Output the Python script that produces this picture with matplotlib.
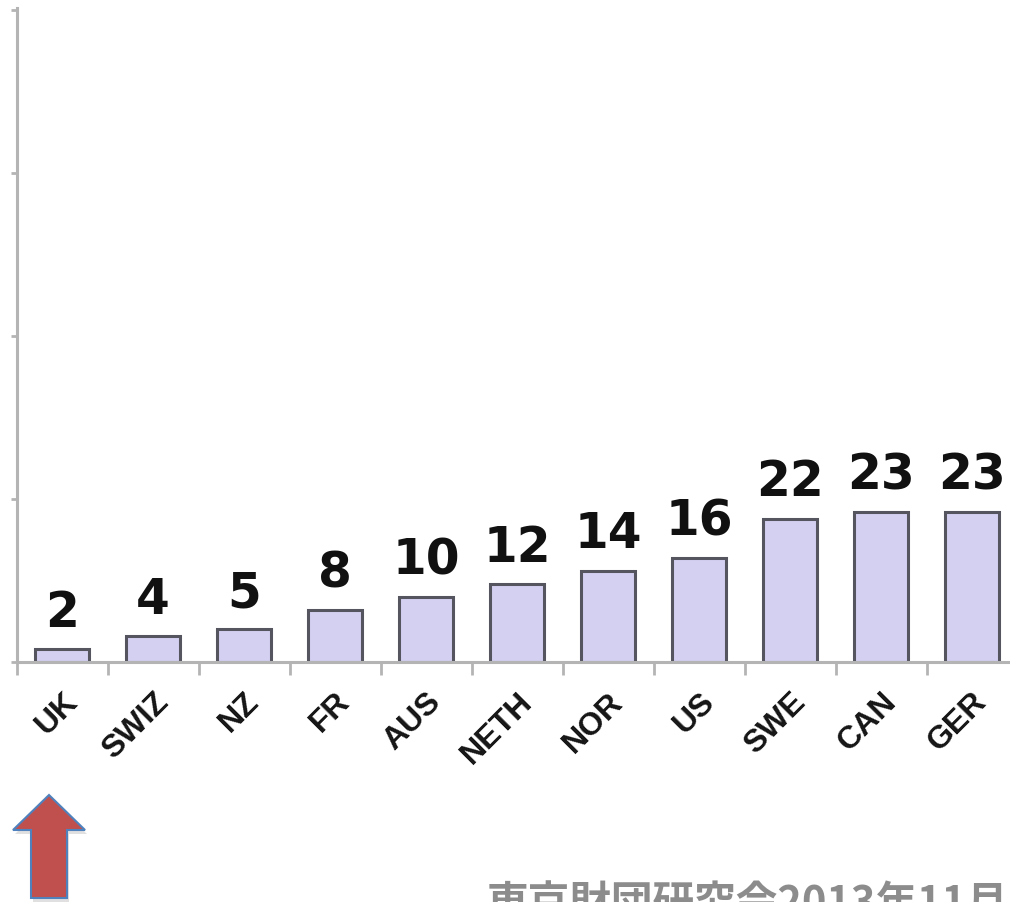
import matplotlib.pyplot as plt
from matplotlib.patches import Polygon
import numpy as np

# data
countries = ['UK', 'SWIZ', 'NZ', 'FR', 'AUS', 'NETH', 'NOR', 'US', 'SWE', 'CAN', 'GER']
values = [2, 4, 5, 8, 10, 12, 14, 16, 22, 23, 23]
y_ticks = [0, 25, 50, 75, 100]
note = '東京財団研究会2013年11月'

W, H = 1010, 902
fig = plt.figure(figsize=(W / 100, H / 100), dpi=100)

# axes: x from -0.5 to 10.5 spans 16.5..1017.5 px, y 0..100 spans 662..10 px
ax = fig.add_axes([16.5 / W, (H - 662) / H, 1001 / W, 652 / H])
x = np.arange(len(countries))
ax.bar(x, values, width=0.6, color='#d3d0f2', edgecolor='#55555f', linewidth=2.2)

ax.set_xlim(-0.5, len(countries) - 0.5)
ax.set_ylim(0, 100)

for sp in ['top', 'right']:
    ax.spines[sp].set_visible(False)
for sp in ['left', 'bottom']:
    ax.spines[sp].set_color('#b4b4b4')
    ax.spines[sp].set_linewidth(2.2)
ax.spines['left'].set_bounds(0, 100.3)

# y ticks: small marks, no labels
ax.set_yticks(y_ticks)
ax.set_yticklabels([])
ax.tick_params(axis='y', direction='out', length=4, width=2, color='#b4b4b4')

# x ticks: labels at centers, marks between categories
ax.set_xticks(x)
ax.set_xticks(np.arange(-0.5, len(countries), 1), minor=True)
ax.tick_params(axis='x', which='major', length=0, pad=18)
ax.tick_params(axis='x', which='minor', direction='out', length=9, width=2, color='#b4b4b4')
ax.set_xticklabels(countries, rotation=45, ha='right', va='top', rotation_mode='anchor',
                   fontsize=23, fontweight='bold', family='Liberation Sans', color='#151515')

# value labels
for xi, v in zip(x, values):
    ax.annotate(str(v), (xi, v), xytext=(0, 16), textcoords='offset points',
                ha='center', va='baseline', fontsize=35, fontweight='bold',
                family='DejaVu Sans', color='#111111')

# red arrow under UK (pixel coords -> figure fraction)
pts = [(49, 795), (85, 830), (67, 830), (67, 898), (31, 898), (31, 830), (13, 830)]
shadow = Polygon([((px + 2) / W, 1 - (py + 4) / H) for px, py in pts], closed=True,
                 transform=fig.transFigure, facecolor='#000000', alpha=0.12, edgecolor='none')
arrow = Polygon([(px / W, 1 - py / H) for px, py in pts], closed=True,
                transform=fig.transFigure, facecolor='#c0504d', edgecolor='#4f81bd', linewidth=1.5)
fig.patches.extend([shadow, arrow])

# source note, cut off at the bottom edge as in the original
fig.text(487 / W, 1 - 884 / H, note, ha='left', va='top', fontsize=30, fontweight='bold',
         color='#8c8c8c', family=['Noto Sans CJK JP', 'DejaVu Sans'])

fig.savefig('out.png', dpi=100)
